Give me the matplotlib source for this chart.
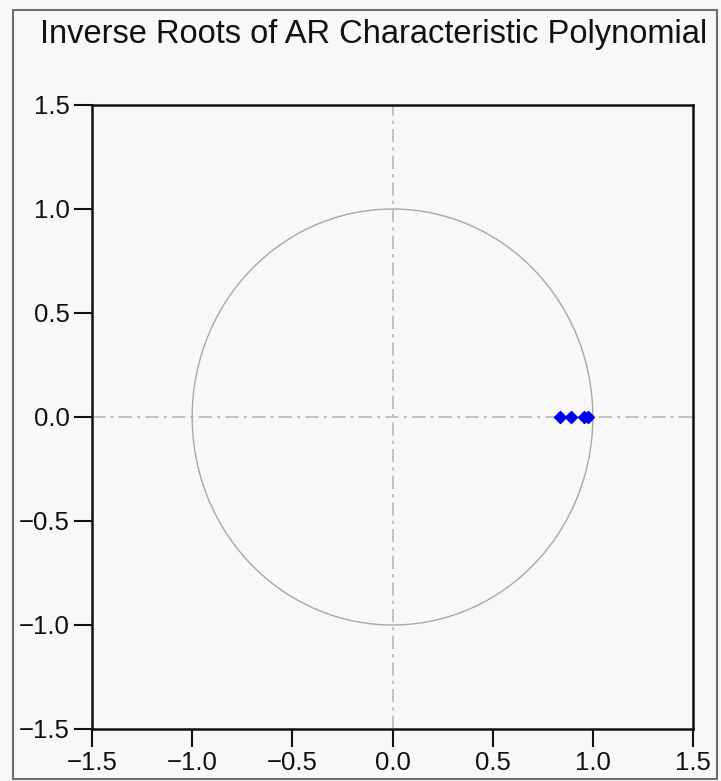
import numpy as np
import matplotlib.pyplot as plt
from matplotlib.patches import Rectangle

# inverse roots of the AR polynomial (real part, imaginary part)
root_re = [0.835, 0.890, 0.955, 0.975]
root_im = [0.0, 0.0, 0.0, 0.0]

ticks = [-1.5, -1.0, -0.5, 0.0, 0.5, 1.0, 1.5]
tick_labels = ['\u22121.5', '\u22121.0', '\u22120.5', '0.0', '0.5', '1.0', '1.5']
title = 'Inverse Roots of AR Characteristic Polynomial'

plt.rcParams['font.family'] = ['Liberation Sans', 'DejaVu Sans']

W, H = 721, 781
fig = plt.figure(figsize=(W / 100, H / 100), dpi=100, facecolor='#f8f8f8')

# outer grey frame
fig.patches.append(Rectangle((13 / W, 1 - 779 / H), 704 / W, 769 / H,
                             transform=fig.transFigure, fill=False,
                             edgecolor='#6e6e6e', linewidth=1.5))

fig.text(40 / W, 1 - 43 / H, title, fontsize=23.5, color='#111111',
         ha='left', va='baseline')

ax = fig.add_axes([92 / W, 1 - 729 / H, 601 / W, 624 / H])
ax.set_facecolor('#f8f8f8')

# unit circle and zero lines
t = np.linspace(0, 2 * np.pi, 400)
ax.plot(np.cos(t), np.sin(t), color='#a8a8a8', lw=1.0)
ax.axhline(0, color='#b8b8b8', lw=1.2, ls='-.', dashes=(8, 3, 2, 3))
ax.axvline(0, color='#b8b8b8', lw=1.2, ls='-.', dashes=(8, 3, 2, 3))

ax.plot(root_re, root_im, ls='none', marker='D', ms=6.5, color='#0000ee',
        markeredgecolor='#0000ee')

ax.set_xlim(-1.5, 1.5)
ax.set_ylim(-1.5, 1.5)
ax.set_xticks(ticks)
ax.set_xticklabels(tick_labels)
ax.set_yticks(ticks)
ax.set_yticklabels(tick_labels)
ax.tick_params(direction='out', length=13, width=1.5, labelsize=18.5,
               colors='#111111', pad=3)
for s in ax.spines.values():
    s.set_linewidth(1.8)
    s.set_color('#111111')

fig.savefig('out.png', dpi=100, facecolor=fig.get_facecolor())
